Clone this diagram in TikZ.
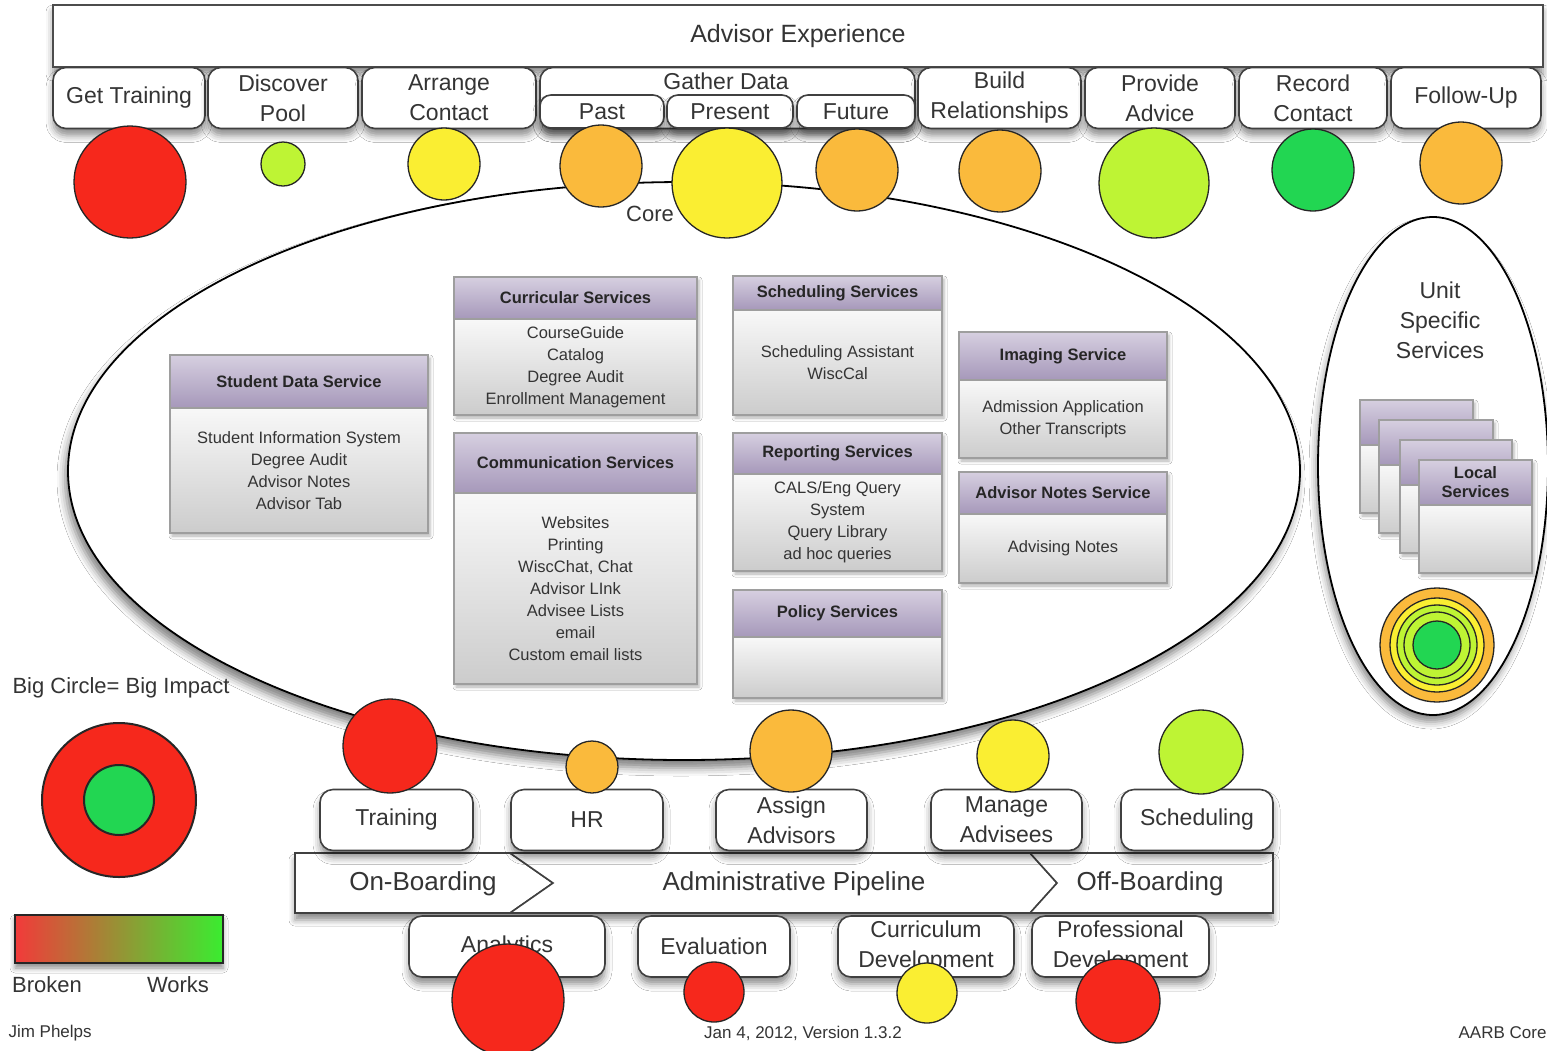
\documentclass[tikz,border=0pt]{standalone}
\usepackage{fontspec}
\setmainfont{Liberation Sans}
\usepackage{tikz}
\usetikzlibrary{calc,shadows,shadows.blur}

\definecolor{txt}{RGB}{52,52,52}
\definecolor{impred}{RGB}{246,40,28}
\definecolor{imporange}{RGB}{250,186,60}
\definecolor{impyellow}{RGB}{250,238,50}
\definecolor{implime}{RGB}{190,244,52}
\definecolor{impgreen}{RGB}{34,214,82}
\definecolor{svcheadtop}{RGB}{214,207,224}
\definecolor{svcheadbot}{RGB}{166,152,186}
\definecolor{svcbodytop}{RGB}{248,248,248}
\definecolor{svcbodybot}{RGB}{204,204,204}
\definecolor{svcedge}{RGB}{158,158,158}
\definecolor{legred}{RGB}{242,58,58}
\definecolor{leggreen}{RGB}{58,236,48}

\newcommand{\hugefnt}{\fontsize{25}{30}\selectfont}
\newcommand{\lblfnt}{\fontsize{23}{30}\selectfont}
\newcommand{\pipefnt}{\fontsize{26}{30}\selectfont}
\newcommand{\svcfnt}{\fontsize{16.5}{22}\selectfont}
\newcommand{\notefnt}{\fontsize{22}{30}\selectfont}
\newcommand{\smallfnt}{\fontsize{17}{20}\selectfont}

\tikzset{
  softshadow/.style={blur shadow={shadow xshift=0pt, shadow yshift=-7pt, shadow blur radius=7pt, shadow opacity=45}},
  topbar/.style={draw=black!70, line width=1.6pt, fill=white, minimum height=62pt, font=\hugefnt, text=txt, softshadow},
  stepbox/.style={draw=black!75, line width=1.6pt, rounded corners=13pt, fill=white, align=center, text=txt, font=\lblfnt, minimum height=61pt, inner sep=0pt, softshadow},
  subbox/.style={stepbox, rounded corners=11pt, minimum height=33pt},
  band/.style={draw=black!75, line width=1.6pt, fill=white, line join=miter},
  impact/.style={circle, draw=black!85, line width=1.3pt, inner sep=0pt},
  svcline/.style={draw=svcedge, line width=1.2pt},
  svctitle/.style={font=\svcfnt\bfseries, text=black!85, align=center},
  svctext/.style={font=\svcfnt, text=txt, align=center},
  notetext/.style={font=\notefnt, text=txt, align=center},
  foottext/.style={font=\smallfnt, text=txt}
}

% service box: name, x1, y1, x2, y2, header bottom, title, lines
\newcommand{\svcbox}[8]{%
  \path[blur shadow={shadow xshift=2pt, shadow yshift=-3pt, shadow blur radius=3pt, shadow opacity=30}] (#2,#3) rectangle (#4,#5);
  \shade[top color=svcbodytop, bottom color=svcbodybot] (#2,#6) rectangle (#4,#5);
  \shade[top color=svcheadtop, bottom color=svcheadbot] (#2,#3) rectangle (#4,#6);
  \draw[svcline] (#2,#3) rectangle (#4,#5) (#2,#6) -- (#4,#6);
  \node[svctitle] (#1-title) at ($(#2,#3)!.5!(#4,#6)$) {#7};
  \node[svctext] (#1-text) at ($(#2,#6)!.5!(#4,#5)$) {#8};
}

\begin{document}
\begin{tikzpicture}[x=1pt,y=-1pt]
  %%%%% START %%%%%
  \path[use as bounding box] (0,0) rectangle (1547,1050);
  \clip (0,0) rectangle (1547,1050);
  \fill[white] (0,0) rectangle (1547,1050);

  %% advisor experience
  \node[topbar, minimum width=1490pt] (advexp) at (798,36) {Advisor Experience};

  \node[stepbox, minimum width=152pt] (gettrain) at (129,98) {Get Training};
  \node[stepbox, minimum width=150pt] (discover) at (283,98) {Discover\\Pool};
  \node[stepbox, minimum width=174pt] (arrange) at (449,98) {Arrange\\Contact};
  \node[stepbox, minimum width=375pt] (gather) at (727.5,98) {};
  \node[font=\lblfnt, text=txt] (gathertxt) at (726,81) {Gather Data};
  \node[subbox, minimum width=124pt] (past) at (602,111.5) {Past};
  \node[subbox, minimum width=126pt] (present) at (730,111.5) {Present};
  \node[subbox, minimum width=118pt] (future) at (856,111.5) {Future};
  \node[stepbox, minimum width=163pt] (build) at (999.5,98) {Build\\Relationships};
  \node[stepbox, minimum width=150pt] (provide) at (1160,98) {Provide\\Advice};
  \node[stepbox, minimum width=148pt] (record) at (1313,98) {Record\\Contact};
  \node[stepbox, minimum width=150pt] (followup) at (1466,98) {Follow-Up};

  %% core and unit ellipses
  \draw[fill=white, line width=1.8pt, blur shadow={shadow xshift=-3pt, shadow yshift=-8pt, shadow blur radius=8pt, shadow opacity=50}]
    (684,471) ellipse [x radius=616, y radius=289];
  \node[notetext] (core) at (650,214) {Core};

  \draw[fill=white, line width=1.8pt, blur shadow={shadow xshift=-2pt, shadow yshift=-7pt, shadow blur radius=7pt, shadow opacity=45}]
    (1433,466) ellipse [x radius=115, y radius=249];
  \node[font=\lblfnt, text=txt, align=center] (unit) at (1440,320) {Unit\\Specific\\Services};

  %% impact of the advisor steps
  \node[impact, fill=impred, minimum size=112pt] (c-gettrain) at (130,182) {};
  \node[impact, fill=implime, minimum size=44pt] (c-discover) at (283,164) {};
  \node[impact, fill=impyellow, minimum size=72pt] (c-arrange) at (444,164) {};
  \node[impact, fill=imporange, minimum size=82pt] (c-past) at (601,166) {};
  \node[impact, fill=impyellow, minimum size=110pt] (c-present) at (727,183) {};
  \node[impact, fill=imporange, minimum size=82pt] (c-future) at (857,170) {};
  \node[impact, fill=imporange, minimum size=82pt] (c-build) at (1000,171) {};
  \node[impact, fill=implime, minimum size=110pt] (c-provide) at (1154,183) {};
  \node[impact, fill=impgreen, minimum size=82pt] (c-record) at (1313,170) {};
  \node[impact, fill=imporange, minimum size=82pt] (c-followup) at (1461,163) {};

  %% core services
  \svcbox{student}{170}{355}{428}{533}{408}{Student Data Service}{Student Information System\\Degree Audit\\Advisor Notes\\Advisor Tab}
  \svcbox{curric}{454}{277}{697}{415}{319}{Curricular Services}{CourseGuide\\Catalog\\Degree Audit\\Enrollment Management}
  \svcbox{comm}{454}{433}{697}{684}{493}{Communication Services}{Websites\\Printing\\WiscChat, Chat\\Advisor LInk\\Advisee Lists\\email\\Custom email lists}
  \svcbox{sched}{733}{276}{942}{415}{310}{Scheduling Services}{Scheduling Assistant\\WiscCal}
  \svcbox{report}{733}{433}{942}{571}{474}{Reporting Services}{CALS/Eng Query\\System\\Query Library\\ad hoc queries}
  \svcbox{policy}{733}{590}{942}{698}{637}{Policy Services}{}
  \svcbox{imaging}{959}{332}{1167}{458}{380}{Imaging Service}{Admission Application\\Other Transcripts}
  \svcbox{notes}{959}{472}{1167}{583}{514}{Advisor Notes Service}{Advising Notes}

  %% local services stack
  \svcbox{local1}{1360}{400}{1473}{513}{445}{}{}
  \svcbox{local2}{1379}{420}{1493}{533}{465}{}{}
  \svcbox{local3}{1400}{440}{1512}{553}{485}{}{}
  \svcbox{local4}{1419}{460}{1532}{573}{505}{Local\\[-3pt]Services}{}

  \node[impact, fill=imporange, minimum size=114pt] (u-outer) at (1437,645) {};
  \node[impact, fill=impyellow, minimum size=94pt] (u-ring1) at (1437,645) {};
  \node[impact, fill=implime, minimum size=80pt] (u-ring2) at (1437,645) {};
  \node[impact, fill=implime, minimum size=66pt] (u-ring3) at (1437,645) {};
  \node[impact, fill=impgreen, minimum size=48pt] (u-inner) at (1437,645) {};

  %% administrative pipeline
  \path[blur shadow={shadow xshift=0pt, shadow yshift=-7pt, shadow blur radius=6pt, shadow opacity=45}] (295,853) rectangle (1273,913);
  \draw[band] (295,853) -- (510,853) -- (553,883) -- (510,913) -- (295,913) -- cycle;
  \draw[band] (510,853) -- (1030,853) -- (1057,883) -- (1030,913) -- (510,913) -- (553,883) -- cycle;
  \draw[band] (1030,853) -- (1273,853) -- (1273,913) -- (1030,913) -- (1057,883) -- cycle;
  \node[font=\pipefnt, text=txt] (onboard) at (423,884) {On-Boarding};
  \node[font=\pipefnt, text=txt] (adminpipe) at (794,884) {Administrative Pipeline};
  \node[font=\pipefnt, text=txt] (offboard) at (1150,884) {Off-Boarding};

  \node[stepbox, minimum width=153pt] (training) at (396.5,820) {Training};
  \node[stepbox, minimum width=152pt] (hr) at (587,820) {HR};
  \node[stepbox, minimum width=151pt] (assign) at (791.5,820) {Assign\\Advisors};
  \node[stepbox, minimum width=151pt] (manage) at (1006.5,820) {Manage\\Advisees};
  \node[stepbox, minimum width=152pt] (scheduling) at (1197,820) {Scheduling};

  \node[stepbox, minimum width=196pt] (analytics) at (507,946.5) {Analytics};
  \node[stepbox, minimum width=152pt] (evaluation) at (714,946.5) {Evaluation};
  \node[stepbox, minimum width=176pt] (curricdev) at (926,946.5) {Curriculum\\Development};
  \node[stepbox, minimum width=177pt] (profdev) at (1120.5,946.5) {Professional\\Development};

  \node[impact, fill=impred, minimum size=94pt] (c-training) at (390,746) {};
  \node[impact, fill=imporange, minimum size=52pt] (c-hr) at (592,767) {};
  \node[impact, fill=imporange, minimum size=82pt] (c-assign) at (791,751) {};
  \node[impact, fill=impyellow, minimum size=72pt] (c-manage) at (1013,756) {};
  \node[impact, fill=implime, minimum size=84pt] (c-scheduling) at (1201,752) {};
  \node[impact, fill=impred, minimum size=112pt] (c-analytics) at (508,1000) {};
  \node[impact, fill=impred, minimum size=60pt] (c-evaluation) at (714,992) {};
  \node[impact, fill=impyellow, minimum size=60pt] (c-curricdev) at (927,993) {};
  \node[impact, fill=impred, minimum size=84pt] (c-profdev) at (1118,1001) {};

  %% legend
  \node[notetext, anchor=west] (bigcircle) at (9,688) {Big Circle= Big Impact};
  \node[impact, fill=impred, line width=2pt, minimum size=154pt] (leg-outer) at (119,800) {};
  \node[impact, fill=impgreen, line width=2pt, minimum size=70pt] (leg-inner) at (119,800) {};

  \path[blur shadow={shadow xshift=0pt, shadow yshift=-5pt, shadow blur radius=5pt, shadow opacity=45}] (15,915) rectangle (223,963);
  \shade[left color=legred, right color=leggreen] (15,915) rectangle (223,963);
  \draw[line width=2.4pt, black!85] (15,915) rectangle (223,963);
  \node[notetext] (broken) at (47,985) {Broken};
  \node[notetext] (works) at (178,985) {Works};

  %% footer
  \node[foottext, anchor=west] (author) at (5,1033) {Jim Phelps};
  \node[foottext] (version) at (803,1033) {Jan 4, 2012, Version 1.3.2};
  \node[foottext, anchor=east] (aarb) at (1550,1033) {AARB Core};

  %%%%% END %%%%%
\end{tikzpicture}
\end{document}
